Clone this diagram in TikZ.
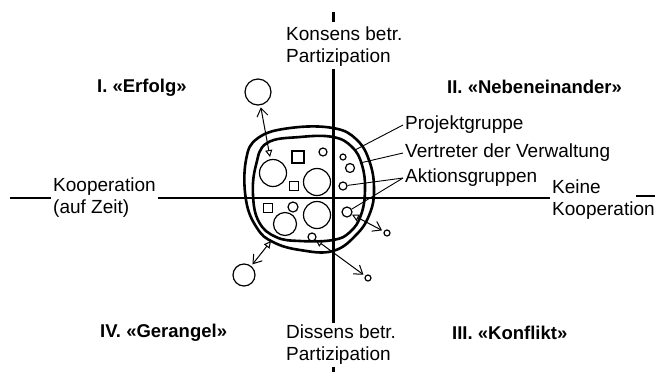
\documentclass[tikz,border=0pt]{standalone}
\usepackage{fontspec}
\setmainfont{Liberation Sans}
\usepackage{tikz}
\usetikzlibrary{arrows.meta}

\begin{document}
\begin{tikzpicture}[x=1bp,y=-1bp]
\useasboundingbox (0,0) rectangle (659,372);
\begin{scope}[every node/.style={inner sep=2bp,align=left,anchor=west,
              font=\fontsize{19bp}{22bp}\selectfont}]
    \node (kons) at (284,47) {Konsens betr.\\Partizipation};
    \node (diss) at (284,345) {Dissens betr.\\Partizipation};
    \node (koop) at (51,198) {Kooperation\\(auf Zeit)};
    \node (keine) at (550,200) {Keine\\Kooperation};
    \node (proj) at (403,125) {Projektgruppe};
    \node (vert) at (403,153) {Vertreter der Verwaltung};
    \node (akt) at (403,178) {Aktionsgruppen};
\end{scope}
\begin{scope}[every node/.style={inner sep=2bp,anchor=west,
              font=\fontsize{18.5bp}{22bp}\selectfont\bfseries}]
    \node (q1) at (95,88) {I. «Erfolg»};
    \node (q2) at (445,87) {II. «Nebeneinander»};
    \node (q3) at (450,333) {III. «Konflikt»};
    \node (q4) at (98,333) {IV. «Gerangel»};
\end{scope}
\coordinate (ntop) at (333,12);
\coordinate (ntopb) at (333,22);
\coordinate (nbot) at (333,372);
\coordinate (wl) at (10,198);
\coordinate (el) at (636,196);
\coordinate (er) at (655,196);
\begin{scope}[axis/.style={draw=black,line width=3bp},
              haxis/.style={draw=black,line width=1.4bp}]
    \path (ntop) edge [axis] (ntopb);
    \path (ntop |- kons.south) edge [axis] (ntop |- diss.north);
    \path (ntop |- diss.south) edge [axis] (nbot);
    \path (wl) edge [axis,line width=2bp] (wl -| koop.west);
    \path (koop.east) edge [haxis] (koop.east -| keine.west);
    \draw [axis,line width=2bp] (el) -- (er);
\end{scope}
\draw [line width=2.6bp] plot [smooth cycle,tension=0.7] coordinates
    {(258,138) (290,128) (333,128) (357,140) (370,163) (374,190) (370,213)
     (357,234) (333,251) (300,250) (273,242) (257,228) (246,200) (246,160)};
\draw [line width=2.6bp] plot [smooth cycle,tension=0.7] coordinates
    {(267,143) (300,137) (333,137) (352,147) (362,165) (365,190) (361,215)
     (350,232) (333,240) (300,241) (276,237) (259,222) (253,195) (256,165)};
\coordinate (m1) at (270,157);
\coordinate (m2) at (271,241);
\coordinate (lp) at (355,150);
\coordinate (lv) at (360,163);
\begin{scope}[every node/.style={circle,draw,line width=1.2bp,inner sep=0pt}]
    \node [minimum size=26bp] (o1) at (258,92) {};
    \node [minimum size=22bp] (o2) at (244,275) {};
    \node [minimum size=6bp] (o3) at (368,278) {};
    \node [minimum size=6bp] (o4) at (387,233) {};
    \node [minimum size=27bp] (b1) at (273,173) {};
    \node [minimum size=27bp] (b2) at (317,182) {};
    \node [minimum size=27bp] (b3) at (317,215) {};
    \node [minimum size=23bp] (b4) at (285,224) {};
    \node [minimum size=10bp] (s1) at (293,207) {};
    \node [minimum size=8bp] (s2) at (323,152) {};
    \node [minimum size=8bp] (s3) at (312,237) {};
    \node [minimum size=6bp] (r1) at (343,157) {};
    \node [minimum size=9bp] (r2) at (350,168) {};
    \node [minimum size=8bp] (r3) at (343,186) {};
    \node [minimum size=10bp] (r4) at (347,212) {};
    \node [rectangle,minimum size=12bp] (k1) at (298,157) {};
    \node [rectangle,minimum size=9bp] (k2) at (294,186) {};
    \node [rectangle,minimum size=9bp] (k3) at (268,208) {};
\end{scope}
\begin{scope}[move/.style={draw=black,line width=1bp,
              {Triangle[open,length=7bp,width=7bp]}-{Straight Barb[length=8bp,width=11bp]}},
              lead/.style={draw=black,line width=0.9bp}]
    \path (m1) edge [move,shorten >=2bp] (o1);
    \path (m2) edge [move,shorten >=2bp] (o2);
    \path (s3) edge [move,shorten >=2bp] (o3);
    \path (r4) edge [move,shorten >=2bp] (o4);
    \path (proj.west) edge [lead] (lp);
    \path (vert.west) edge [lead] (lv);
    \path (akt.west) edge [lead] (r3);
    \path (akt.west) edge [lead] (r4);
\end{scope}
\end{tikzpicture}
\end{document}
